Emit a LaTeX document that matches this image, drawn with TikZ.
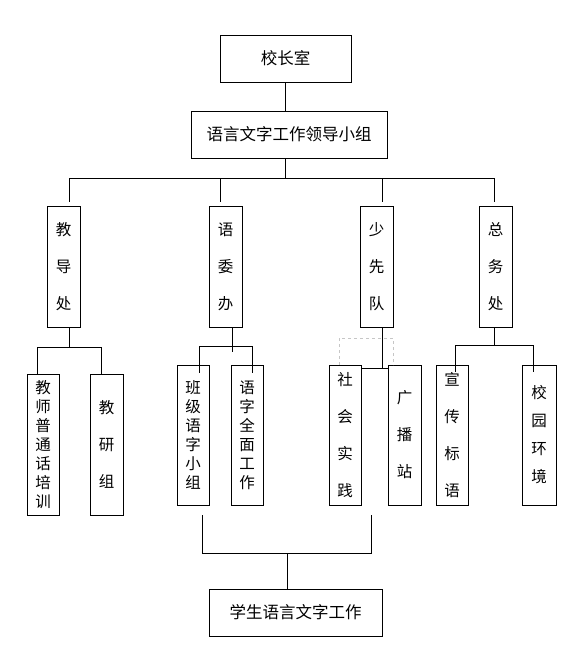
\documentclass[tikz,border=0pt]{standalone}
\usepackage{fontspec}
\newfontfamily\cjk{Noto Sans CJK SC}
\tikzset{
  unit/.style={draw, line width=0.9pt, inner sep=0pt, font=\cjk\fontsize{16.5}{16.5}\selectfont},
  col/.style={unit, minimum width=33pt, minimum height=121pt, align=center, font=\cjk\fontsize{15.5}{37}\selectfont},
  sub/.style={unit, minimum height=140pt, align=center, font=\cjk\fontsize{15.5}{37}\selectfont},
  dense/.style={font=\cjk\fontsize{15.5}{19}\selectfont},
  link/.style={line width=0.9pt}
}
\begin{document}
\begin{tikzpicture}[x=1pt, y=-1pt]
        \useasboundingbox (0,0) rectangle (587,655);
        \node[unit, minimum width=131pt, minimum height=47pt] (xzs) at (285.5,58.5) {校长室};
        \node[unit, minimum width=196pt, minimum height=47pt] (ldxz) at (289,134.5) {语言文字工作领导小组};
        \node[col] (jdc) at (63.5,266.5) {教\\导\\处};
        \node[col] (ywb) at (225.5,266.5) {语\\委\\办};
        \node[col] (sxd) at (376.5,266.5) {少\\先\\队};
        \node[col] (zwc) at (495.5,266.5) {总\\务\\处};
        \node[sub, dense, minimum width=32pt, minimum height=141pt] (jspx) at (43,444.5) {教\\师\\普\\通\\话\\培\\训};
        \node[sub, minimum width=33pt, minimum height=141pt] (jyz) at (106.5,444.5) {教\\研\\组};
        \node[sub, dense, minimum width=32pt] (bjyz) at (193,435) {班\\级\\语\\字\\小\\组};
        \node[sub, dense, minimum width=32pt] (yzqm) at (247,435) {语\\字\\全\\面\\工\\作};
        \node[sub, minimum width=32pt] (shsj) at (345,435) {社\\会\\实\\践};
        \node[sub, minimum width=33pt] (gbz) at (404.5,435) {广\\播\\站};
        \node[sub, minimum width=32pt] (xcby) at (452,435) {宣\\传\\标\\语};
        \node[sub, minimum width=34pt, font=\cjk\fontsize{15.5}{28}\selectfont] (xyhj) at (539,435) {校\\园\\环\\境};
        \node[unit, minimum width=173pt, minimum height=47pt] (xsgz) at (295.5,612.5) {学生语言文字工作};
        \coordinate (b0) at (69,178);
        \coordinate (b1) at (220,178);
        \coordinate (b2) at (382,178);
        \coordinate (b3) at (494,178);
        \draw[link] (xzs) -- (xzs |- ldxz.north);
        \draw[link] (xzs |- ldxz.south) -- (xzs |- b0);
        \draw[link] (b0) -- (b3);
        \foreach \b in {b0,b1,b2,b3}
            \draw[link] (\b) -- ([yshift=4pt]\b |- jdc.north);
        \coordinate (c0) at (69,347);
        \coordinate (c0l) at (37,347);
        \coordinate (c0r) at (101,347);
        \draw[link] (c0 |- jdc.south) -- (c0);
        \draw[link] (c0l) -- (c0r);
        \draw[link] (c0l) -- (c0l |- jspx.north);
        \draw[link] (c0r) -- (c0r |- jyz.north);
        \coordinate (c1) at (232,352);
        \coordinate (c1l) at (199,346);
        \coordinate (c1r) at (252,346);
        \draw[link] (c1 |- ywb.south) -- (c1);
        \draw[link] (c1l) -- (c1r);
        \draw[link] (c1l) -- ++(0,27);
        \draw[link] (c1r) -- ++(0,27);
        \coordinate (c2) at (382,368);
        \draw[gray!45, dashed, line width=0.7pt] (339,365) -- (339,338) -- (393,338) -- (393,365);
        \draw[link] (c2 |- sxd.south) -- (c2);
        \draw[link] (shsj.north east |- c2) -- (gbz.north west |- c2);
        \coordinate (c3) at (494,345);
        \coordinate (c3l) at (455,345);
        \coordinate (c3r) at (533,345);
        \draw[link] (c3 |- zwc.south) -- (c3);
        \draw[link] (c3l) -- (c3r);
        \draw[link] (c3l) -- ++(0,27);
        \draw[link] (c3r) -- ++(0,27);
        \coordinate (d0) at (202,515);
        \coordinate (d1) at (371,515);
        \coordinate (e0) at (202,553);
        \coordinate (e1) at (371,553);
        \coordinate (e) at (287,553);
        \draw[link] (d0) -- (e0) -- (e1) -- (d1);
        \draw[link] (e) -- (e |- xsgz.north);
\end{tikzpicture}
\end{document}
